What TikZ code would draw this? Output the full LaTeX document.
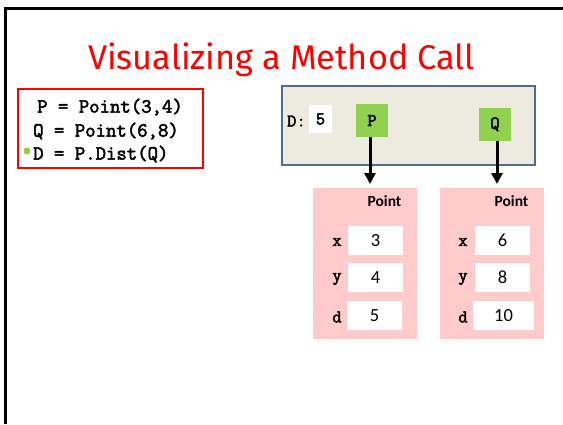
\documentclass[tikz,border=0pt]{standalone}
\usepackage{fontspec}
\setmainfont{Carlito}
\newfontfamily\titlefont{Fira Sans}
\newfontfamily\codefont{Latin Modern Mono}[FakeBold=2.5]
\usetikzlibrary{arrows.meta}
\definecolor{titlered}{HTML}{FF0000}
\definecolor{framefill}{HTML}{EDEAE0}
\definecolor{frameedge}{HTML}{4F6D8F}
\definecolor{refgreen}{HTML}{92D050}
\definecolor{objpink}{HTML}{FFCBCB}
\tikzset{
  x=1pt, y=-1pt,
  code/.style={font=\codefont\fontsize{20.2}{20.2}\selectfont, anchor=west, inner sep=0},
  varname/.style={font=\codefont\fontsize{18}{18}\selectfont, inner sep=0},
  refbox/.style={fill=refgreen, minimum width=32pt, minimum height=33pt, inner sep=0,
                 font=\codefont\fontsize{18}{18}\selectfont},
  objbox/.style={fill=objpink, minimum width=104pt, minimum height=151pt, inner sep=0},
  slot/.style={fill=white, minimum width=55pt, minimum height=29pt, inner sep=0,
               font=\fontsize{18.5}{18.5}\selectfont},
  fieldname/.style={font=\codefont\fontsize{18}{18}\selectfont, inner sep=0},
  classname/.style={font=\bfseries\fontsize{15.5}{15.5}\selectfont, inner sep=0},
  pointer/.style={draw=black, line width=3pt, -{Triangle[length=11pt,width=11pt]}},
}
\begin{document}
\begin{tikzpicture}
\useasboundingbox (0,0) rectangle (563,424);
% slide border
\draw[line width=3.5pt] (5.5,424) -- (5.5,8.5) -- (563,8.5);
% title
\node[text=titlered, font=\titlefont\fontsize{34.3}{34.3}\selectfont, inner sep=0] (title) at (281.5,60) {Visualizing a Method Call};
% code listing
\draw[titlered, line width=2pt] (17.5,88.5) rectangle (203,168);
\node[code] (l1) at (37,107) {P = Point(3,4)};
\node[code] (l2) at (33,131) {Q = Point(6,8)};
\node[code] (l3) at (33,154) {D = P.Dist(Q)};
\fill[refgreen] (27,151) circle (3.5pt);
% call frame
\draw[fill=framefill, draw=frameedge, line width=2pt] (282,85.5) rectangle (534.5,164.5);
\node[varname, anchor=west] (dlab) at (287,121) {D:};
\node[fill=white, minimum width=23pt, minimum height=28pt, inner sep=0,
      font=\codefont\fontsize{18}{18}\selectfont] (dval) at (320.5,119) {5};
\node[refbox] (P) at (372,120.5) {P};
\node[refbox] (Q) at (495,124.5) {Q};
% objects
\node[objbox] (o1) at (365,263.5) {};
\node[objbox] (o2) at (492,263.5) {};
\coordinate (o1top) at (370,184);
\coordinate (o2top) at (497,184);
\path[pointer] (P.south -| o1top) -- (o1top);
\path[pointer] (Q.south -| o2top) -- (o2top);
\node[classname] (c1) at (384.5,201) {Point};
\node[classname] (c2) at (511.5,201) {Point};
% fields of the first point
\node[slot] (x1) at (375.5,240.5) {3};
\node[slot] (y1) at (375.5,277.5) {4};
\node[slot] (d1) at (374.5,315.5) {5};
\node[fieldname] at (337,242) {x};
\node[fieldname] at (337,279) {y};
\node[fieldname] at (337,317) {d};
% fields of the second point
\node[slot] (x2) at (502.5,240.5) {6};
\node[slot] (y2) at (502.5,277.5) {8};
\node[slot, minimum width=61pt] (d2) at (503.5,315.5) {10};
\node[fieldname] at (463,242) {x};
\node[fieldname] at (463,279) {y};
\node[fieldname] at (463,317) {d};
\end{tikzpicture}
\end{document}
